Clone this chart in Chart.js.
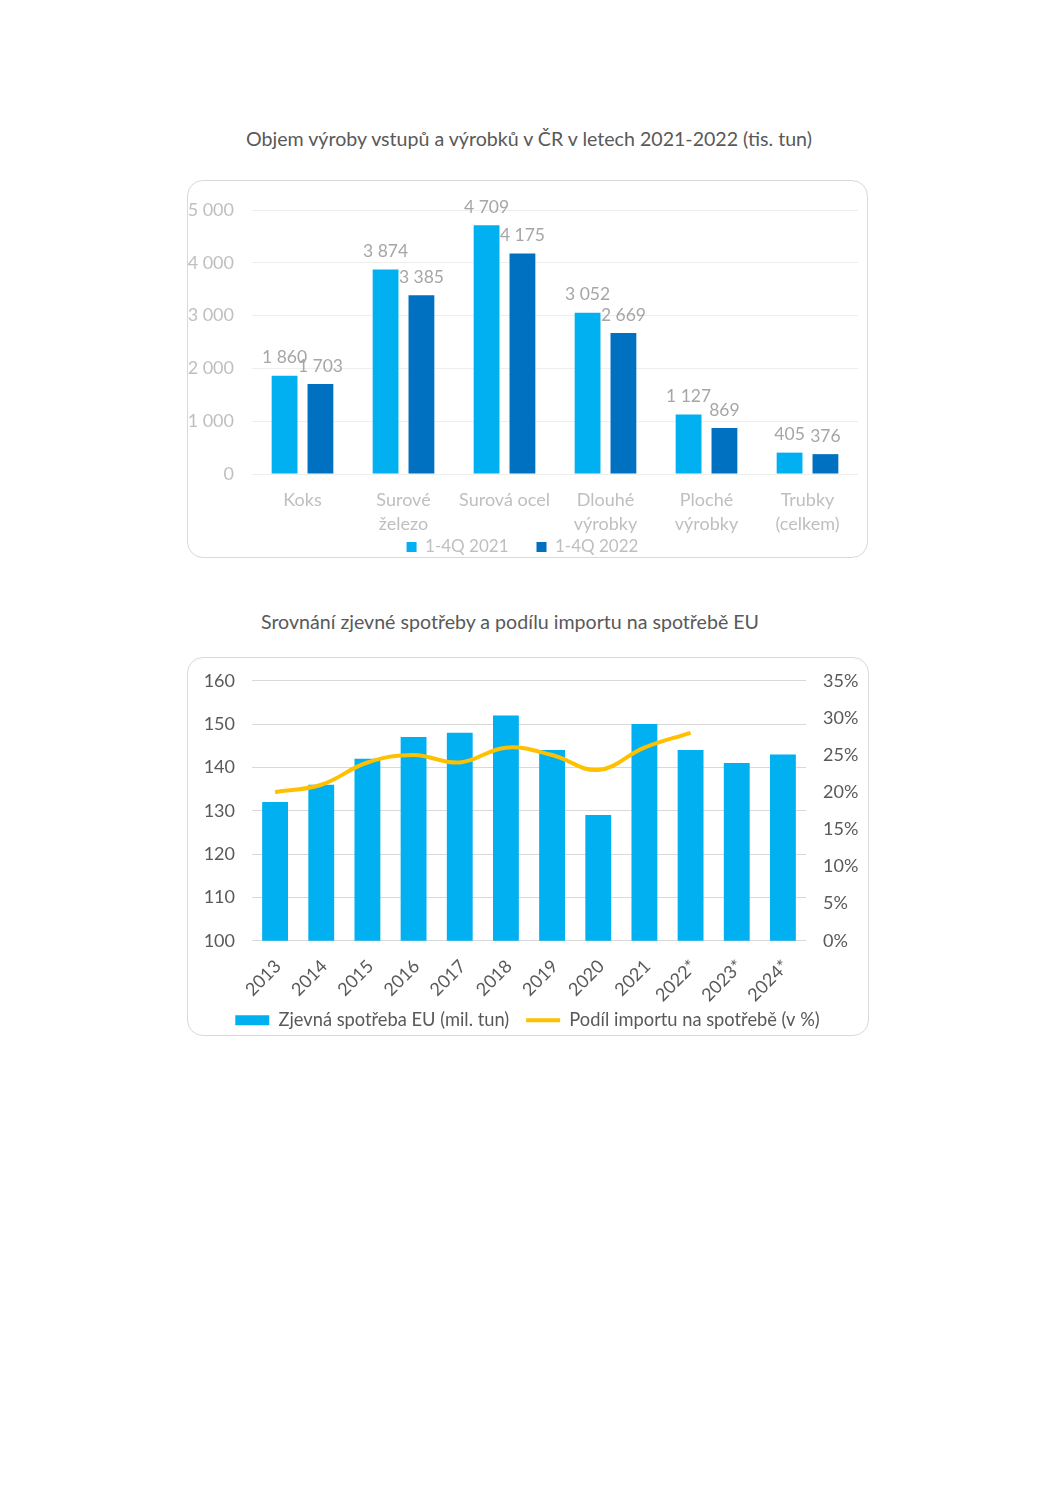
<!DOCTYPE html>
<html>
<head>
<meta charset="utf-8">
<script src="https://cdn.jsdelivr.net/npm/chart.js@4"></script>
<style>
	body { margin: 0; background: #fff; font-family: Lato, sans-serif; }
	#page { position: relative; width: 1058px; height: 1497px; }
	.title { position: absolute; left: 0; width: 1058px; text-align: center; color: #595959; font-size: 19.6px; }
	.box { position: absolute; border: 1px solid #d9d9d9; border-radius: 16px; }
	.wrap { position: absolute; }
</style>
</head>
<body>
<div id="page">
	<div class="title" style="top:127px; left:0px;">Objem výroby vstupů a výrobků v ČR v letech 2021-2022 (tis. tun)</div>
	<div class="box" style="left:187px; top:180px; width:679px; height:376px;"></div>
	<div class="wrap" style="left:187px; top:180px; width:680px; height:390px;"><canvas id="chart-vyroba"></canvas></div>

	<div class="title" style="top:610px; left:-19px;">Srovnání zjevné spotřeby a podílu importu na spotřebě EU</div>
	<div class="box" style="left:187px; top:657px; width:680px; height:377px;"></div>
	<div class="wrap" style="left:187px; top:653px; width:681px; height:390px;"><canvas id="chart-spotreba"></canvas></div>
</div>

<script>
// Objem vyroby
var kategorie = [['Koks'], ['Surové', 'železo'], ['Surová ocel'], ['Dlouhé', 'výrobky'], ['Ploché', 'výrobky'], ['Trubky', '(celkem)']];
var vyroba2021 = [1860, 3874, 4709, 3052, 1127, 405];
var vyroba2022 = [1703, 3385, 4175, 2669, 869, 376];

// Spotreba EU
var roky = ['2013', '2014', '2015', '2016', '2017', '2018', '2019', '2020', '2021', '2022*', '2023*', '2024*'];
var spotrebaEU = [132, 136, 142, 147, 148, 152, 144, 129, 150, 144, 141, 143];
var podilImportu = [20, 21, 24, 25, 24, 26, 25, 23, 26, 28, null, null];

function format_cislo(v) {
	return v.toString().replace(/\B(?=(\d{3})+(?!\d))/g, ' ');
}

var popiskyPlugin = {
	id: 'popisky',
	afterDatasetsDraw: function(chart) {
		var ctx = chart.ctx;
		ctx.save();
		ctx.font = '17.5px Lato';
		ctx.fillStyle = '#a6a6a6';
		ctx.textAlign = 'center';
		ctx.textBaseline = 'middle';
		chart.data.datasets.forEach(function(ds, i) {
			chart.getDatasetMeta(i).data.forEach(function(bar, j) {
				ctx.fillText(format_cislo(ds.data[j]), bar.x, bar.y - 18);
			});
		});
		ctx.restore();
	}
};

// popisky osy x se nesmi orezat (legenda je hned pod nimi)
var osaXPlugin = {
	id: 'osaX',
	afterLayout: function(chart) {
		chart.scales.x.bottom = chart.height;
	}
};

var configVyroba = {
	type: 'bar',
	data: {
		labels: kategorie,
		datasets: [{
			label: '1-4Q 2021',
			data: vyroba2021,
			backgroundColor: '#00b0f0',
			categoryPercentage: 0.71,
			barPercentage: 0.72
		}, {
			label: '1-4Q 2022',
			data: vyroba2022,
			backgroundColor: '#0070c0',
			categoryPercentage: 0.71,
			barPercentage: 0.72
		}]
	},
	options: {
		responsive: true,
		maintainAspectRatio: false,
		animation: false,
		layout: { padding: { top: 30, right: 9, left: 0, bottom: 4.5 } },
		scales: {
			y: {
				min: 0,
				max: 5000,
				ticks: {
					stepSize: 1000,
					color: '#bfbfbf',
					padding: 18,
					font: { family: 'Lato', size: 18 },
					callback: function(v) { return format_cislo(v); }
				},
				grid: { color: '#eeeeee', drawTicks: false },
				border: { display: false },
				afterFit: function(scale) { scale.width = 65; }
			},
			x: {
				ticks: {
					color: '#bfbfbf',
					padding: 6,
					font: { family: 'Lato', size: 18, lineHeight: 1.33 },
					maxRotation: 0
				},
				grid: { display: false },
				border: { display: false },
				afterFit: function(scale) { scale.height = 36.5; }
			}
		},
		plugins: {
			legend: {
				display: true,
				position: 'bottom',
				labels: {
					color: '#bfbfbf',
					boxWidth: 10,
					boxHeight: 10,
					padding: 28,
					font: { family: 'Lato', size: 17 }
				}
			},
			title: { display: false },
			tooltip: { enabled: false }
		}
	},
	plugins: [popiskyPlugin, osaXPlugin]
};

var ctx = document.getElementById('chart-vyroba').getContext('2d');
chartVyroba = new Chart(ctx, configVyroba);

var configSpotreba = {
	type: 'bar',
	data: {
		labels: roky,
		datasets: [{
			type: 'bar',
			label: 'Zjevná spotřeba EU (mil. tun)',
			data: spotrebaEU,
			backgroundColor: '#00b0f0',
			yAxisID: 'y',
			order: 1,
			categoryPercentage: 0.8,
			barPercentage: 0.7
		}, {
			type: 'line',
			label: 'Podíl importu na spotřebě (v %)',
			data: podilImportu,
			borderColor: '#ffc000',
			backgroundColor: '#ffc000',
			borderWidth: 4,
			pointRadius: 0,
			tension: 0.4,
			yAxisID: 'y1',
			order: 0
		}]
	},
	options: {
		responsive: true,
		maintainAspectRatio: false,
		animation: false,
		layout: { padding: { top: 19, right: 0, left: 0, bottom: 3.5 } },
		scales: {
			y: {
				position: 'left',
				min: 100,
				max: 160,
				ticks: {
					stepSize: 10,
					color: '#595959',
					padding: 17,
					font: { family: 'Lato', size: 18 }
				},
				grid: { color: '#d9d9d9', drawTicks: false },
				border: { display: false },
				afterFit: function(scale) { scale.width = 65; }
			},
			y1: {
				position: 'right',
				min: 0,
				max: 35,
				ticks: {
					stepSize: 5,
					color: '#595959',
					padding: 17,
					font: { family: 'Lato', size: 18 },
					callback: function(v) { return v + '%'; }
				},
				grid: { display: false, drawTicks: false },
				border: { display: false },
				afterFit: function(scale) { scale.width = 62; }
			},
			x: {
				ticks: {
					color: '#595959',
					padding: 7,
					labelOffset: 3,
					autoSkip: false,
					minRotation: 45,
					maxRotation: 45,
					font: { family: 'Lato', size: 18 }
				},
				grid: { display: false },
				border: { display: false },
				afterFit: function(scale) { scale.height = 53.5; }
			}
		},
		plugins: {
			legend: {
				display: true,
				position: 'bottom',
				labels: {
					color: '#595959',
					usePointStyle: true,
					pointStyleWidth: 34,
					boxHeight: 10,
					padding: 17,
					font: { family: 'Lato', size: 18.3 },
					generateLabels: function(chart) {
						return [{
							text: 'Zjevná spotřeba EU (mil. tun)',
							fillStyle: '#00b0f0',
							strokeStyle: '#00b0f0',
							lineWidth: 0,
							pointStyle: 'rect',
							fontColor: '#595959',
							datasetIndex: 0
						}, {
							text: 'Podíl importu na spotřebě (v %)',
							fillStyle: '#ffc000',
							strokeStyle: '#ffc000',
							lineWidth: 4,
							pointStyle: 'line',
							fontColor: '#595959',
							datasetIndex: 1
						}];
					}
				}
			},
			title: { display: false },
			tooltip: { enabled: false }
		}
	},
	plugins: [osaXPlugin]
};

var ctx = document.getElementById('chart-spotreba').getContext('2d');
chartSpotreba = new Chart(ctx, configSpotreba);
</script>
</body>
</html>
